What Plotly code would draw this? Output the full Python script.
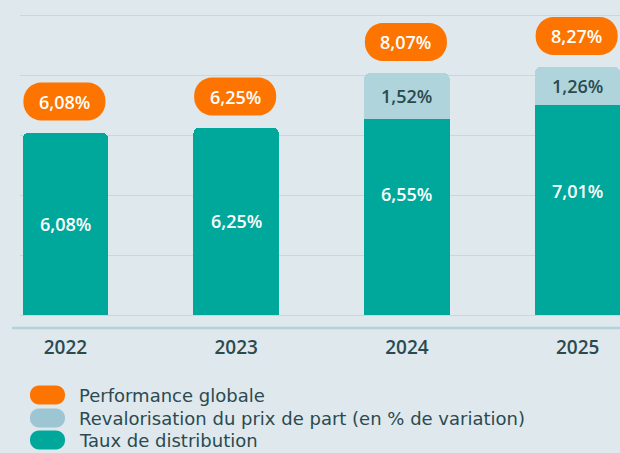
import plotly.graph_objects as go

# ---- data ----
years = ["2022", "2023", "2024", "2025"]
taux_distribution = [6.08, 6.25, 6.55, 7.01]
revalorisation = [0.0, 0.0, 1.52, 1.26]
performance_globale = [6.08, 6.25, 8.07, 8.27]
series_names = ["Performance globale",
                "Revalorisation du prix de part (en % de variation)",
                "Taux de distribution"]

# ---- style ----
BG = "#dee8ed"
TEAL = "#00a89c"
LIGHT = "#afd4db"
LEGEND_LIGHT = "#9dc6d2"
ORANGE = "#fd7400"
DARK = "#2b4a50"
GRID = "#c9d6dc"
AXIS = "#b3d2d9"
FONT = "Open Sans"
LEGEND_FONT = "DejaVu Sans"

W, H = 620, 453
ML, MR, MT, MB = 20, 0, 0, 125
PW, PH = W - ML - MR, H - MT - MB


def px_to_paper_x(px):
    return (px - ML) / PW


def px_to_paper_y(py):
    return (H - MB - py) / PH


def fmt(v):
    return f"{v:.2f}".replace(".", ",") + "%"


def rounded_rect(x0, y0, x1, y1, r):
    k = 0.5523 * r
    return (f"M{x0+r},{y0} L{x1-r},{y0} C{x1-r+k},{y0} {x1},{y0+r-k} {x1},{y0+r} "
            f"L{x1},{y1-r} C{x1},{y1-r+k} {x1-r+k},{y1} {x1-r},{y1} "
            f"L{x0+r},{y1} C{x0+r-k},{y1} {x0},{y1-r+k} {x0},{y1-r} "
            f"L{x0},{y0+r} C{x0},{y0+r-k} {x0+r-k},{y0} {x0+r},{y0} Z")


fig = go.Figure()
fig.add_trace(go.Bar(x=years, y=taux_distribution, name=series_names[2],
                     marker=dict(color=TEAL, line=dict(width=0)), width=0.5,
                     showlegend=False, hoverinfo="skip"))
fig.add_trace(go.Bar(x=years, y=revalorisation, name=series_names[1],
                     marker=dict(color=LIGHT, line=dict(width=0)), width=0.5,
                     showlegend=False, hoverinfo="skip"))

shapes = []
annotations = []
label_font = dict(family=FONT, size=18, weight=600)

for i, (d, r, tot) in enumerate(zip(taux_distribution, revalorisation, performance_globale)):
    # distribution label
    annotations.append(dict(x=i, y=tot / 2, text=fmt(d), showarrow=False,
                            font=dict(label_font, color="white"),
                            xref="x", yref="y", yanchor="middle"))
    # revalorisation label
    if r > 0:
        annotations.append(dict(x=i, y=d + r / 2, text=fmt(r), showarrow=False,
                                font=dict(label_font, color=DARK),
                                xref="x", yref="y", yanchor="middle"))
    # performance pill
    shapes.append(dict(type="path", xref="x", yref="y", xsizemode="pixel", ysizemode="pixel",
                       xanchor=i, yanchor=tot,
                       path=rounded_rect(-42, 12, 40, 50, 18),
                       fillcolor=ORANGE, line=dict(width=0), layer="above"))
    annotations.append(dict(x=i, y=tot, yshift=31, xshift=-1, text=fmt(tot), showarrow=False,
                            font=dict(label_font, color="white"),
                            xref="x", yref="y", yanchor="middle"))

# bottom axis line
shapes.append(dict(type="line", xref="paper", yref="paper",
                   x0=px_to_paper_x(12), x1=1, y0=0, y1=0,
                   line=dict(color=AXIS, width=2.5), layer="above"))

# custom legend
legend_colors = [ORANGE, LEGEND_LIGHT, TEAL]
legend_rows = [395, 418, 440]
for name, col, ry in zip(series_names, legend_colors, legend_rows):
    shapes.append(dict(type="path", xref="paper", yref="paper", xsizemode="pixel", ysizemode="pixel",
                       xanchor=px_to_paper_x(47.5), yanchor=px_to_paper_y(ry),
                       path=rounded_rect(-17.5, -9.5, 17.5, 9.5, 9),
                       fillcolor=col, line=dict(width=0)))
    annotations.append(dict(x=px_to_paper_x(77), y=px_to_paper_y(ry), xref="paper", yref="paper",
                            text=name, showarrow=False, xanchor="left", yanchor="middle",
                            font=dict(family=LEGEND_FONT, size=18, color=DARK)))

fig.update_layout(
    width=W, height=H,
    margin=dict(l=ML, r=MR, t=MT, b=MB),
    paper_bgcolor=BG, plot_bgcolor=BG,
    barmode="stack", barcornerradius=6,
    showlegend=False,
    shapes=shapes, annotations=annotations,
    xaxis=dict(type="category", range=[-0.266, 3.248], showgrid=False, showline=False,
               zeroline=False, ticks="", ticklabelstandoff=6,
               tickfont=dict(family=FONT, size=19, color=DARK, weight=600)),
    yaxis=dict(range=[-0.433, 10.5], dtick=2, tick0=0, showgrid=True, gridcolor=GRID,
               gridwidth=1, zeroline=True, zerolinecolor=GRID, zerolinewidth=1,
               showticklabels=False, showline=False, ticks=""),
)

fig.write_html("out.html", config={"displayModeBar": False},
               post_script="document.body.style.margin='0';document.body.style.background='%s';" % BG)
